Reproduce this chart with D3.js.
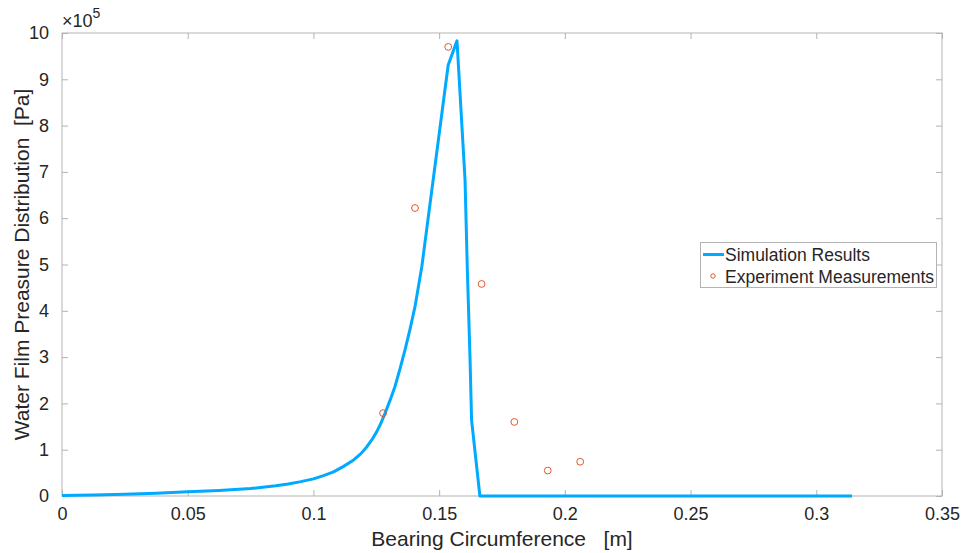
<!DOCTYPE html>
<html>
<head>
<meta charset="utf-8">
<script src="https://cdn.jsdelivr.net/npm/d3@7.9.0/dist/d3.min.js"></script>
<style>
  body { margin: 0; background: #fff; }
  text { font-family: "Liberation Sans", Arial, Helvetica, sans-serif; fill: #262626; }
</style>
</head>
<body>
<svg id="chart" width="963" height="553"></svg>
<script>
// simulation curve (x in m, pressure in 1e5 Pa)
const simX = [0, 0.0125, 0.025, 0.0375, 0.05, 0.0625, 0.075, 0.085, 0.09, 0.095, 0.1, 0.104, 0.108, 0.112, 0.116, 0.1188, 0.1212, 0.1232, 0.1252, 0.1269, 0.1285, 0.1305, 0.1324, 0.1344, 0.1364, 0.1384, 0.1404, 0.1431, 0.1536, 0.1571, 0.1603, 0.1612, 0.1623, 0.1629, 0.1662, 0.3142];
const simY = [0.01, 0.02, 0.04, 0.06, 0.09, 0.12, 0.16, 0.22, 0.26, 0.31, 0.37, 0.44, 0.52, 0.64, 0.78, 0.91, 1.06, 1.21, 1.39, 1.58, 1.79, 2.07, 2.36, 2.74, 3.15, 3.6, 4.09, 4.95, 9.31, 9.83, 6.83, 4.92, 2.94, 1.64, 0, 0];

// experiment measurements
const expX = [0.1277, 0.1404, 0.1536, 0.1669, 0.1799, 0.1932, 0.2061];
const expY = [1.79, 6.22, 9.70, 4.58, 1.60, 0.55, 0.74];

const xTicks = [0, 0.05, 0.1, 0.15, 0.2, 0.25, 0.3, 0.35];
const yTicks = [0, 1, 2, 3, 4, 5, 6, 7, 8, 9, 10];

const margin = { left: 62, right: 942, top: 33, bottom: 496 };
const svg = d3.select('#chart');

const x = d3.scaleLinear().domain([0, 0.35]).range([margin.left, margin.right]);
const y = d3.scaleLinear().domain([0, 10]).range([margin.bottom, margin.top]);

const axisColor = '#b3b3b3';

// frame
svg.append('rect')
    .attr('x', margin.left).attr('y', margin.top)
    .attr('width', margin.right - margin.left).attr('height', margin.bottom - margin.top)
    .attr('fill', 'none').attr('stroke', axisColor).attr('stroke-width', 1);

function styleAxis(g) {
    g.select('.domain').remove();
    g.selectAll('.tick line').attr('stroke', axisColor);
    g.selectAll('.tick text')
        .attr('font-size', 18)
        .attr('fill', '#262626');
}

svg.append('g')
    .attr('transform', `translate(0,${margin.bottom})`)
    .call(d3.axisBottom(x).tickValues(xTicks).tickFormat(d => d3.format('')(+d.toFixed(2))).tickSizeInner(-6).tickSizeOuter(0).tickPadding(11))
    .call(styleAxis);

svg.append('g')
    .attr('transform', `translate(0,${margin.top})`)
    .call(d3.axisTop(x).tickValues(xTicks).tickFormat('').tickSizeInner(-6).tickSizeOuter(0))
    .call(styleAxis);

svg.append('g')
    .attr('transform', `translate(${margin.left},0)`)
    .call(d3.axisLeft(y).tickValues(yTicks).tickSizeInner(-6).tickSizeOuter(0).tickPadding(13))
    .call(styleAxis);

svg.append('g')
    .attr('transform', `translate(${margin.right},0)`)
    .call(d3.axisRight(y).tickValues(yTicks).tickFormat('').tickSizeInner(-6).tickSizeOuter(0))
    .call(styleAxis);

// exponent label
const expo = svg.append('text')
    .attr('x', 62).attr('y', 27)
    .attr('font-size', 18);
expo.append('tspan').text('\u00d710');
expo.append('tspan').attr('dy', -9).attr('font-size', 14).text('5');

// axis labels
svg.append('text')
    .attr('x', (margin.left + margin.right) / 2).attr('y', 546)
    .attr('text-anchor', 'middle').attr('font-size', 21)
    .attr('xml:space', 'preserve')
    .text('Bearing Circumference   [m]');

svg.append('text')
    .attr('transform', `translate(29,${(margin.top + margin.bottom) / 2}) rotate(-90)`)
    .attr('text-anchor', 'middle').attr('font-size', 21)
    .attr('xml:space', 'preserve')
    .text('Water Film Preasure Distribution  [Pa]');

// simulation line
const simData = simX.map((d, i) => [d, simY[i]]);
const line = d3.line()
    .x(d => x(d[0]))
    .y(d => y(d[1]));

svg.append('path')
    .datum(simData)
    .attr('d', line)
    .attr('fill', 'none')
    .attr('stroke', '#00aaff')
    .attr('stroke-width', 3)
    .attr('stroke-linejoin', 'round');

// experiment points
svg.selectAll('circle.exp')
    .data(expX.map((d, i) => [d, expY[i]]))
    .join('circle')
    .attr('class', 'exp')
    .attr('cx', d => x(d[0]))
    .attr('cy', d => y(d[1]))
    .attr('r', 3.4)
    .attr('fill', 'none')
    .attr('stroke', '#e0582a')
    .attr('stroke-width', 1);

// legend
const legend = svg.append('g');
legend.append('rect')
    .attr('x', 700.5).attr('y', 242.5).attr('width', 236).attr('height', 45)
    .attr('fill', '#fff').attr('stroke', axisColor);
legend.append('line')
    .attr('x1', 703).attr('x2', 724).attr('y1', 254.5).attr('y2', 254.5)
    .attr('stroke', '#00aaff').attr('stroke-width', 3);
legend.append('text')
    .attr('x', 725).attr('y', 261).attr('font-size', 17.5).attr('fill', '#000')
    .text('Simulation Results');
legend.append('circle')
    .attr('cx', 713).attr('cy', 276).attr('r', 2.2)
    .attr('fill', 'none').attr('stroke', '#e0582a').attr('stroke-width', 1);
legend.append('text')
    .attr('x', 725).attr('y', 282.5).attr('font-size', 17.5).attr('fill', '#000')
    .text('Experiment Measurements');
</script>
</body>
</html>
